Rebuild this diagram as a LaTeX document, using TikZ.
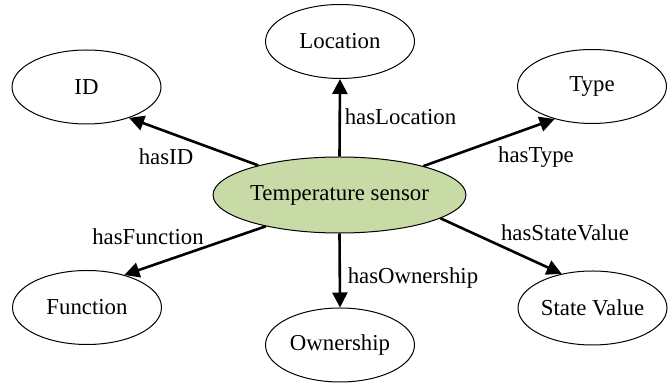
\documentclass[tikz,border=0pt]{standalone}
\usepackage{fontspec}
\setmainfont{Liberation Serif}
\usetikzlibrary{shapes.geometric,arrows.meta}
\definecolor{sensorgreen}{RGB}{200,218,165}
\begin{document}
\begin{tikzpicture}[x=0.5pt,y=-0.5pt,
  every node/.style={font=\fontsize{11.4}{13}\selectfont},
  concept/.style={ellipse,draw=black,line width=0.5pt,inner sep=0pt,minimum width=74.5pt,minimum height=37pt},
  central/.style={concept,fill=sensorgreen,minimum width=117.5pt,minimum height=38pt},
  rel/.style={line width=1.3pt,-{Triangle[length=7.5pt,width=7.5pt]}},
  lbl/.style={inner sep=0pt,anchor=center}]
\useasboundingbox (0,0) rectangle (670,384);
\node[central] (ts) at (339.5,195) {Temperature sensor};
\node[concept] (loc) at (340,41.5) {Location};
\node[concept] (id) at (86.5,87) {ID};
\node[concept] (type) at (592,86.5) {Type};
\node[concept] (fun) at (87,307.5) {Function};
\node[concept] (own) at (340,345) {Ownership};
\node[concept] (sv) at (592.5,308) {State Value};
\draw[rel] (ts.90) -- (loc.-90);
\draw[rel] (ts.160) -- (id.-36);
\draw[rel] (ts.19) -- (type.-139);
\draw[rel] (ts.203) -- (fun.41);
\draw[rel] (ts.-90) -- (own.90);
\draw[rel] (ts.-13) -- (sv.132);
\node[lbl] (l1) at (400.5,117) {hasLocation};
\node[lbl] (l2) at (166,157) {hasID};
\node[lbl] (l3) at (536,157) {hasType};
\node[lbl] (l4) at (148,237) {hasFunction};
\node[lbl] (l5) at (413,278) {hasOwnership};
\node[lbl] (l6) at (565,233) {hasStateValue};
\end{tikzpicture}
\end{document}
